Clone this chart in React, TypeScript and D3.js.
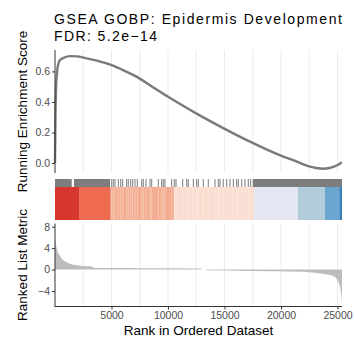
import React, { useEffect, useRef } from 'react';
import * as d3 from 'd3';

// running enrichment score
const esRank = [0, 40, 100, 200, 300, 442, 800, 1327, 2000, 2504, 3700, 4956, 6200, 7434, 8407, 9973, 12451, 14894, 17257, 20000, 21300, 22478, 23100, 23717, 24300, 24929, 25200, 25372];
const esScore = [0, 0.3, 0.5, 0.61, 0.65, 0.675, 0.69, 0.70, 0.698, 0.69, 0.67, 0.642, 0.602, 0.556, 0.51, 0.435, 0.327, 0.229, 0.14, 0.048, 0.012, -0.022, -0.032, -0.037, -0.032, -0.016, -0.005, 0.006];

// ranked list metric
const metricRank = [0, 100, 250, 400, 600, 900, 1300, 1800, 2500, 3300, 3400, 5000, 8000, 12900, 13000, 13350, 13400, 17000, 22000, 23000, 24000, 24700, 25000, 25250, 25350, 25400];
const metricValue = [6.0, 4.5, 3.3, 2.7, 2.0, 1.5, 1.1, 0.85, 0.68, 0.55, 0.3, 0.28, 0.25, 0.2, 0, 0, -0.15, -0.25, -0.4, -0.6, -0.9, -1.3, -2.0, -3.5, -5.0, -6.5];

// gene set hits: dense stretches and single hits
const hitBlocks = [[0, 1480], [1680, 4870], [17500, 25400]];
const hitTicks = [5018, 5160, 5310, 5600, 5815, 5990, 6345, 6487, 6700, 6877, 7080, 7284, 7673, 7815, 8054, 8407, 8558, 9142, 9443, 9585, 9735, 10328,
  10558, 10710, 11300, 11655, 11797, 12240, 12540, 12682, 13125, 13567, 14160, 14452, 14602, 14894, 15195, 15487, 15780, 16080, 16222, 16523, 16815, 17107, 17320];

// colour bins of the ranked list
const binStart = [0, 2124, 4930, 10530, 17610, 21500, 23895, 25160];
const binEnd = [2124, 4930, 10530, 17610, 21500, 23895, 25160, 25400];
const binColor = ['#D7372F', '#EE6A50', '#F3AC90', '#FADDD0', '#E4E7F1', '#B3CCDB', '#6AA6CF', '#3A7FB8'];

const xTicks = [5000, 10000, 15000, 20000, 25000];
const xMinor = [2500, 7500, 12500, 17500, 22500];
const esTicks = [0.0, 0.2, 0.4, 0.6];
const metricTicks = [8, 4, 0, -4];

const W = 354, H = 337;
const FONT = '"Liberation Sans", Arial, Helvetica, sans-serif';

export default function App() {
  const ref = useRef<SVGSVGElement>(null);

  useEffect(() => {
    const svg = d3.select(ref.current);
    svg.selectAll('*').remove();

    const x = d3.scaleLinear().domain([0, 25400]).range([55, 342]);
    const yEs = d3.scaleLinear().domain([-0.065, 0.74]).range([173, 50]);
    const yM = d3.scaleLinear().domain([-6.9, 8.6]).range([306.5, 223.5]);

    // grid lines
    const grid = (y0: number, y1: number) => {
      svg.append('g').selectAll('line').data([...xMinor, ...xTicks]).enter().append('line')
        .attr('x1', d => x(d)).attr('x2', d => x(d))
        .attr('y1', y0).attr('y2', y1)
        .attr('stroke', '#EBEBEB').attr('stroke-width', 1);
    };
    grid(50, 173);
    grid(223.5, 306.5);

    // running ES
    const es = esRank.map((r, i) => [r, esScore[i]] as [number, number]);
    svg.append('path')
      .datum(es)
      .attr('d', d3.line<[number, number]>().x(d => x(d[0])).y(d => yEs(d[1])).curve(d3.curveMonotoneX))
      .attr('fill', 'none').attr('stroke', '#7A7A7A').attr('stroke-width', 2.4);

    const yAxisEs = svg.append('g').attr('transform', 'translate(55,0)')
      .call(d3.axisLeft(yEs).tickValues(esTicks).tickFormat(d3.format('.1f')).tickSize(3).tickPadding(2));
    yAxisEs.select('.domain').remove();
    yAxisEs.append('line').attr('x1', 0).attr('x2', 0).attr('y1', 50).attr('y2', 173).attr('stroke', '#333');

    // rug
    const rugTop = 179, colorTop = 187, rugBottom = 220;
    svg.append('g').selectAll('rect').data(hitBlocks).enter().append('rect')
      .attr('x', d => x(d[0])).attr('width', d => x(d[1]) - x(d[0]))
      .attr('y', rugTop).attr('height', colorTop - rugTop)
      .attr('fill', '#7D7D7D');
    svg.append('g').selectAll('line').data(hitTicks).enter().append('line')
      .attr('x1', d => x(d)).attr('x2', d => x(d))
      .attr('y1', rugTop).attr('y2', colorTop)
      .attr('stroke', '#7D7D7D').attr('stroke-width', 1);
    svg.append('g').selectAll('rect').data(binStart).enter().append('rect')
      .attr('x', (d) => x(d)).attr('width', (d, i) => x(binEnd[i]) - x(d))
      .attr('y', colorTop).attr('height', rugBottom - colorTop)
      .attr('fill', (d, i) => binColor[i]);
    svg.append('g').selectAll('line').data(hitTicks).enter().append('line')
      .attr('x1', d => x(d)).attr('x2', d => x(d))
      .attr('y1', colorTop).attr('y2', rugBottom)
      .attr('stroke', '#fff').attr('stroke-opacity', 0.3).attr('stroke-width', 1);

    // ranked metric
    const m = metricRank.map((r, i) => [r, metricValue[i]] as [number, number]);
    svg.append('path')
      .datum(m)
      .attr('d', d3.area<[number, number]>().x(d => x(d[0])).y0(yM(0)).y1(d => yM(d[1])).curve(d3.curveMonotoneX))
      .attr('fill', '#BDBDBD').attr('stroke', 'none');

    const yAxisM = svg.append('g').attr('transform', 'translate(55,0)')
      .call(d3.axisLeft(yM).tickValues(metricTicks).tickFormat(d => d3.format('')(d).replace('-', '\u2212')).tickSize(3).tickPadding(2));
    yAxisM.select('.domain').remove();
    yAxisM.append('line').attr('x1', 0).attr('x2', 0).attr('y1', 223.5).attr('y2', 306.5).attr('stroke', '#333');

    const xAxis = svg.append('g').attr('transform', 'translate(0,306.5)')
      .call(d3.axisBottom(x).tickValues(xTicks).tickFormat(d3.format('d')).tickSize(3).tickPadding(2));
    xAxis.select('.domain').remove();
    xAxis.append('line').attr('x1', 54.5).attr('x2', 342).attr('y1', 0).attr('y2', 0).attr('stroke', '#333');

    svg.selectAll('.tick line').attr('stroke', '#333');
    svg.selectAll('.tick text').attr('fill', '#4D4D4D').style('font-size', '10.5px').style('font-family', FONT);

    // titles
    svg.append('text').attr('x', 54).attr('y', 24)
      .attr('font-family', FONT).attr('font-size', 14).attr('fill', '#000')
      .attr('textLength', 288).attr('lengthAdjust', 'spacing')
      .text('GSEA GOBP: Epidermis Development');
    svg.append('text').attr('x', 54).attr('y', 40.5)
      .attr('font-family', FONT).attr('font-size', 14).attr('fill', '#000')
      .attr('textLength', 103).attr('lengthAdjust', 'spacing')
      .text('FDR: 5.2e\u221214');

    svg.append('text').attr('transform', 'translate(26.5,111.5) rotate(-90)')
      .attr('text-anchor', 'middle').attr('font-family', FONT).attr('font-size', 13.5)
      .text('Running Enrichment Score');
    svg.append('text').attr('transform', 'translate(26.5,265) rotate(-90)')
      .attr('text-anchor', 'middle').attr('font-family', FONT).attr('font-size', 13.5)
      .text('Ranked List Metric');
    svg.append('text').attr('x', 198.5).attr('y', 335)
      .attr('text-anchor', 'middle').attr('font-family', FONT).attr('font-size', 13.5)
      .text('Rank in Ordered Dataset');
  }, []);

  return <svg ref={ref} width={W} height={H} style={{ position: 'absolute', left: 0, top: 0, background: '#fff' }} />;
}
